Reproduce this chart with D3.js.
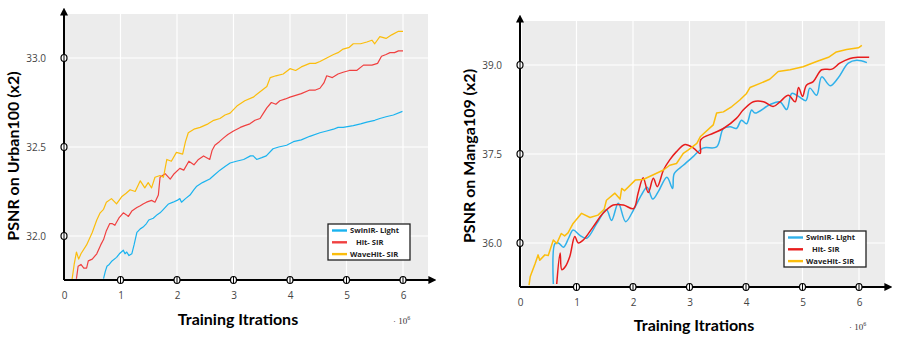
<!DOCTYPE html>
<html>
<head>
<meta charset="utf-8">
<script src="https://cdn.jsdelivr.net/npm/d3@7"></script>
<style>
body { margin: 0; background: #fff; }
svg { display: block; }
</style>
</head>
<body>
<div id="chart"></div>
<script>
// x in 10^6 iterations, y in dB
var xTicks = [0, 1, 2, 3, 4, 5, 6];
var urbanTicks = [32.0, 32.5, 33.0];
var mangaTicks = [36.0, 37.5, 39.0];
var legendNames = ["SwinIR- Light", "   Hit- SIR", "WaveHit- SIR"];

var urbanSwin = [[0.70,31.76],[0.73,31.80],[0.76,31.83],[0.80,31.84],[0.85,31.86],[0.93,31.88],[0.98,31.90],[1.05,31.92],[1.08,31.90],[1.11,31.91],[1.15,31.89],[1.20,31.90],[1.24,31.95],[1.29,32.02],[1.35,32.04],[1.40,32.05],[1.46,32.07],[1.50,32.09],[1.58,32.10],[1.65,32.12],[1.70,32.13],[1.76,32.15],[1.85,32.18],[1.93,32.19],[2.00,32.20],[2.05,32.21],[2.08,32.19],[2.15,32.21],[2.23,32.23],[2.30,32.26],[2.35,32.28],[2.45,32.30],[2.58,32.32],[2.65,32.34],[2.76,32.37],[2.85,32.39],[2.94,32.41],[3.05,32.42],[3.18,32.43],[3.30,32.45],[3.35,32.45],[3.41,32.43],[3.50,32.44],[3.58,32.45],[3.70,32.49],[3.80,32.50],[3.94,32.51],[4.06,32.53],[4.20,32.54],[4.35,32.56],[4.53,32.58],[4.65,32.59],[4.77,32.60],[4.85,32.61],[4.94,32.61],[5.12,32.62],[5.25,32.63],[5.36,32.64],[5.50,32.65],[5.59,32.66],[5.70,32.67],[5.83,32.68],[5.99,32.70]];
var urbanHit = [[0.22,31.76],[0.25,31.83],[0.30,31.84],[0.35,31.82],[0.40,31.82],[0.43,31.86],[0.50,31.87],[0.58,31.90],[0.65,31.95],[0.70,31.98],[0.75,32.03],[0.81,32.07],[0.85,32.07],[0.90,32.06],[0.97,32.10],[1.05,32.13],[1.10,32.12],[1.14,32.11],[1.20,32.14],[1.29,32.16],[1.35,32.17],[1.40,32.18],[1.46,32.19],[1.55,32.20],[1.61,32.19],[1.67,32.23],[1.70,32.33],[1.79,32.35],[1.88,32.32],[1.95,32.35],[2.05,32.38],[2.12,32.37],[2.21,32.42],[2.30,32.40],[2.38,32.43],[2.47,32.45],[2.58,32.43],[2.62,32.48],[2.67,32.51],[2.75,32.53],[2.82,32.55],[2.90,32.57],[3.00,32.59],[3.12,32.61],[3.20,32.62],[3.29,32.63],[3.38,32.65],[3.47,32.66],[3.53,32.69],[3.59,32.72],[3.67,32.75],[3.75,32.74],[3.82,32.76],[3.92,32.77],[4.00,32.78],[4.10,32.79],[4.20,32.80],[4.35,32.82],[4.45,32.82],[4.53,32.83],[4.60,32.86],[4.65,32.90],[4.75,32.89],[4.85,32.91],[4.94,32.92],[5.05,32.93],[5.18,32.93],[5.30,32.96],[5.45,32.96],[5.55,32.97],[5.62,33.01],[5.70,33.02],[5.77,33.03],[5.85,33.03],[5.92,33.04],[6.00,33.04]];
var urbanWave = [[0.14,31.75],[0.18,31.84],[0.22,31.91],[0.26,31.87],[0.30,31.90],[0.40,31.95],[0.50,32.02],[0.58,32.09],[0.64,32.13],[0.70,32.15],[0.75,32.19],[0.84,32.21],[0.93,32.18],[1.02,32.22],[1.10,32.24],[1.17,32.26],[1.26,32.25],[1.35,32.31],[1.43,32.27],[1.49,32.30],[1.55,32.27],[1.61,32.33],[1.70,32.34],[1.76,32.33],[1.82,32.43],[1.90,32.42],[1.99,32.47],[2.10,32.46],[2.15,32.53],[2.20,32.58],[2.30,32.60],[2.41,32.61],[2.55,32.63],[2.65,32.65],[2.76,32.66],[2.85,32.68],[2.94,32.69],[3.06,32.73],[3.20,32.76],[3.35,32.78],[3.47,32.81],[3.59,32.84],[3.65,32.89],[3.75,32.90],[3.88,32.91],[4.00,32.94],[4.10,32.93],[4.20,32.95],[4.35,32.97],[4.45,32.97],[4.53,32.98],[4.65,33.00],[4.77,33.02],[4.85,33.03],[4.94,33.05],[5.05,33.06],[5.12,33.08],[5.25,33.08],[5.36,33.09],[5.45,33.10],[5.50,33.08],[5.59,33.12],[5.70,33.11],[5.80,33.13],[5.92,33.15],[6.00,33.15]];

var mangaSwin = [[0.59,35.31],[0.62,35.99],[0.68,36.00],[0.77,35.93],[0.86,36.08],[0.94,36.22],[1.06,36.13],[1.18,36.08],[1.36,36.33],[1.53,36.56],[1.62,36.38],[1.74,36.67],[1.87,36.36],[2.01,36.56],[2.15,36.81],[2.25,36.94],[2.35,36.74],[2.45,36.87],[2.60,37.11],[2.70,36.92],[2.73,37.17],[2.89,37.31],[3.07,37.46],[3.24,37.60],[3.48,37.62],[3.60,37.93],[3.72,37.96],[3.83,37.93],[3.92,38.07],[4.01,38.01],[4.10,38.24],[4.16,38.19],[4.42,38.33],[4.60,38.38],[4.72,38.25],[4.81,38.52],[4.93,38.47],[5.06,38.40],[5.13,38.61],[5.25,38.49],[5.34,38.80],[5.49,38.65],[5.63,38.78],[5.81,39.03],[5.96,39.08],[6.14,39.04]];
var mangaHit = [[0.65,35.31],[0.71,35.83],[0.74,35.55],[0.80,35.60],[0.88,35.77],[0.97,36.11],[1.03,36.00],[1.12,36.05],[1.30,36.28],[1.47,36.50],[1.65,36.64],[1.83,36.64],[2.01,36.58],[2.09,36.84],[2.18,37.10],[2.27,36.85],[2.36,37.09],[2.43,36.95],[2.54,37.23],[2.65,37.40],[2.77,37.54],[2.92,37.66],[3.07,37.60],[3.19,37.51],[3.20,37.74],[3.42,37.85],[3.60,37.93],[3.83,38.10],[3.95,38.24],[4.13,38.38],[4.31,38.38],[4.48,38.30],[4.60,38.38],[4.75,38.49],[4.87,38.38],[4.93,38.62],[5.00,38.47],[5.07,38.66],[5.19,38.72],[5.34,38.92],[5.52,38.93],[5.66,39.03],[5.84,39.11],[5.99,39.13],[6.18,39.13]];
var mangaWave = [[0.16,35.29],[0.18,35.43],[0.27,35.66],[0.32,35.80],[0.35,35.71],[0.44,35.80],[0.50,35.79],[0.59,36.05],[0.65,35.99],[0.73,36.16],[0.79,36.12],[0.85,36.17],[0.94,36.33],[1.09,36.50],[1.24,36.43],[1.38,36.47],[1.49,36.57],[1.53,36.72],[1.68,36.84],[1.77,36.74],[1.80,36.92],[1.85,36.88],[2.04,37.06],[2.18,37.07],[2.36,37.15],[2.54,37.23],[2.65,37.31],[2.77,37.34],[2.89,37.51],[2.98,37.57],[3.13,37.68],[3.19,37.79],[3.42,37.99],[3.48,38.19],[3.60,38.21],[3.75,38.30],[3.89,38.41],[4.01,38.52],[4.07,38.62],[4.25,38.69],[4.42,38.76],[4.57,38.89],[4.78,38.92],[5.01,38.97],[5.25,39.06],[5.46,39.13],[5.60,39.22],[5.78,39.26],[5.99,39.29],[6.05,39.33]];

var svg = d3.select("#chart").append("svg")
    .attr("width", 897)
    .attr("height", 345);

var defs = svg.append("defs");
defs.append("marker")
    .attr("id", "arrow")
    .attr("viewBox", [0, 0, 10, 10])
    .attr("refX", 2)
    .attr("refY", 5)
    .attr("markerWidth", 4)
    .attr("markerHeight", 4)
    .attr("markerUnits", "strokeWidth")
    .attr("orient", "auto-start-reverse")
    .append("path")
    .attr("d", d3.line()([[0, 0], [0, 10], [10, 5]]))
    .attr("fill", "#000");

function panel(p) {
  var x = d3.scaleLinear().domain([0, 6]).range([p.x0, p.x6]);
  var y = d3.scaleLinear().domain([p.yTicks[0], p.yTicks[2]]).range([p.yLo, p.yHi]);
  var g = svg.append("g");

  // gray plot area
  g.append("rect")
    .attr("x", p.left).attr("y", p.top)
    .attr("width", p.right - p.left).attr("height", p.bottom - p.top)
    .attr("fill", "#ececec");

  // grid
  g.append("g").selectAll("line").data(xTicks.slice(1)).join("line")
    .attr("x1", d => x(d)).attr("x2", d => x(d))
    .attr("y1", p.top).attr("y2", p.bottom)
    .attr("stroke", "#fff").attr("stroke-width", 1.2);
  g.append("g").selectAll("line").data(p.yTicks).join("line")
    .attr("x1", p.x0).attr("x2", p.right)
    .attr("y1", d => y(d)).attr("y2", d => y(d))
    .attr("stroke", "#fff").attr("stroke-width", 1.2);

  // lines
  var clipId = "clip" + p.id;
  defs.append("clipPath").attr("id", clipId).append("rect")
    .attr("x", p.x0).attr("y", p.top - 5)
    .attr("width", p.right - p.x0 + 5).attr("height", p.bottom - p.top + 5);
  var lg = g.append("g").attr("clip-path", "url(#" + clipId + ")");
  p.series.forEach(function(s, i) {
    var line = d3.line().x(d => x(d[0])).y(d => y(d[1])).curve(p.curves[i]);
    lg.append("path")
      .attr("d", line(s))
      .attr("fill", "none")
      .attr("stroke", p.colors[i])
      .attr("stroke-width", p.lw)
      .attr("stroke-linejoin", "round");
  });

  // tick labels via d3 axes
  var yAxis = g.append("g")
    .attr("transform", "translate(" + (p.x0 - 15) + ",0)")
    .call(d3.axisLeft(y).tickValues(p.yTicks).tickSize(0).tickFormat(d3.format(".1f")));
  yAxis.select(".domain").remove();
  yAxis.selectAll("text").attr("font-family", "Open Sans, sans-serif").attr("font-size", 10).attr("fill", "#444");

  var xAxis = g.append("g")
    .attr("transform", "translate(0," + (p.bottom + 9) + ")")
    .call(d3.axisBottom(x).tickValues(xTicks).tickSize(0).tickFormat(d3.format("d")));
  xAxis.select(".domain").remove();
  xAxis.selectAll("text").attr("font-family", "Open Sans, sans-serif").attr("font-size", 10).attr("fill", "#444");

  // axis lines with arrows
  g.append("path")
    .attr("d", d3.line()([[p.x0, p.bottom], [p.x0, p.arrowTop + 6]]))
    .attr("stroke", "#000").attr("stroke-width", 2)
    .attr("marker-end", "url(#arrow)");
  g.append("path")
    .attr("d", d3.line()([[p.x0, p.bottom], [p.arrowRight - 6, p.bottom]]))
    .attr("stroke", "#000").attr("stroke-width", 2)
    .attr("marker-end", "url(#arrow)");

  // tick markers
  function marker(cx, cy) {
    g.append("ellipse").attr("cx", cx).attr("cy", cy).attr("rx", 3).attr("ry", 3.5)
      .attr("fill", "#fff").attr("stroke", "#000").attr("stroke-width", 1.2);
    g.append("line").attr("x1", cx).attr("x2", cx).attr("y1", cy - 3.5).attr("y2", cy + 3.5)
      .attr("stroke", "#000").attr("stroke-width", 1);
  }
  p.yTicks.forEach(d => marker(p.x0, y(d)));
  xTicks.slice(1).forEach(d => marker(x(d), p.bottom));

  // titles
  g.append("text")
    .attr("transform", "translate(" + p.ytX + "," + p.ytY + ") rotate(-90)")
    .attr("text-anchor", "middle")
    .attr("font-family", "Lato, sans-serif")
    .attr("font-weight", "bold").attr("font-size", 16)
    .text(p.yTitle);
  g.append("text")
    .attr("x", p.xtX).attr("y", p.xtY)
    .attr("text-anchor", "middle")
    .attr("font-family", "Lato, sans-serif")
    .attr("font-weight", "bold").attr("font-size", 16)
    .text("Training Itrations");
  var sc = g.append("text")
    .attr("x", p.x6 - 10).attr("y", p.xtY - 1)
    .attr("font-family", "Liberation Serif, serif")
    .attr("font-size", 9).attr("fill", "#333");
  sc.append("tspan").text("\u00b7 10");
  sc.append("tspan").attr("dy", -4).attr("font-size", 6).text("6");

  // legend
  var lgd = g.append("g").attr("transform", "translate(" + p.legX + "," + p.legY + ")");
  lgd.append("rect").attr("width", 82).attr("height", 36)
    .attr("fill", "#fff").attr("stroke", "#222").attr("stroke-width", 1.3);
  legendNames.forEach(function(n, i) {
    var ry = 6.5 + i * 11.8;
    lgd.append("line").attr("x1", 4).attr("x2", 19).attr("y1", ry).attr("y2", ry)
      .attr("stroke", p.colors[i]).attr("stroke-width", 2.4);
    lgd.append("text").attr("x", 22).attr("y", ry).attr("dy", "0.35em")
      .attr("font-family", "Open Sans, sans-serif").attr("font-weight", "bold")
      .attr("font-size", 7.6).attr("fill", "#222")
      .attr("xml:space", "preserve").style("white-space", "pre")
      .text(n);
  });
}

panel({
  id: "a", x0: 64, x6: 403, yTicks: urbanTicks, yLo: 236, yHi: 58,
  left: 64, right: 428, top: 14, bottom: 280, arrowTop: 8, arrowRight: 436,
  series: [urbanSwin, urbanHit, urbanWave],
  colors: ["#1ab3ef", "#f04040", "#fbbd0c"], lw: 1.2,
  curves: [d3.curveLinear, d3.curveLinear, d3.curveLinear],
  yTitle: "PSNR on Urban100 (x2)", ytX: 19, ytY: 156, xtX: 238, xtY: 325,
  legX: 328, legY: 224
});

panel({
  id: "b", x0: 520, x6: 859, yTicks: mangaTicks, yLo: 243, yHi: 65,
  left: 522, right: 885, top: 21, bottom: 287, arrowTop: 15, arrowRight: 892,
  series: [mangaSwin, mangaHit, mangaWave],
  colors: ["#2fb0ea", "#e81c1c", "#fbbd0c"], lw: 1.5,
  curves: [d3.curveCatmullRom.alpha(0.5), d3.curveCatmullRom.alpha(0.5), d3.curveLinear],
  yTitle: "PSNR on Manga109 (x2)", ytX: 475, ytY: 156, xtX: 694, xtY: 331,
  legX: 784, legY: 231
});
</script>
</body>
</html>
